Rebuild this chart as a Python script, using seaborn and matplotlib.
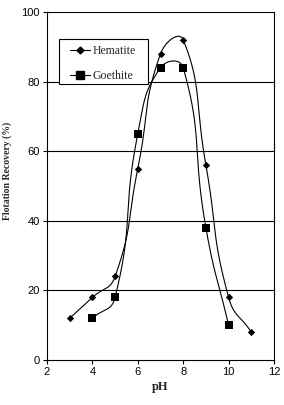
import numpy as np
import pandas as pd
import matplotlib
matplotlib.use("Agg")
import matplotlib.pyplot as plt
import seaborn as sns
from matplotlib.lines import Line2D
from matplotlib.patches import Rectangle

hematite_ph = [3, 4, 5, 6, 7, 8, 9, 10, 11]
hematite_rec = [12, 18, 24, 55, 88, 92, 56, 18, 8]
goethite_ph = [4, 5, 6, 7, 8, 9, 10]
goethite_rec = [12, 18, 65, 84, 84, 38, 10]
x_ticks = [2, 4, 6, 8, 10, 12]
y_ticks = [0, 20, 40, 60, 80, 100]

sns.set_theme(style="white")
plt.rcParams["font.family"] = ["Liberation Serif", "DejaVu Sans"]

W, H = 284, 405
fig = plt.figure(figsize=(W / 100, H / 100), dpi=100)
ax = fig.add_axes([47 / W, 45 / H, 227 / W, 348 / H])
ax.set_xlim(2, 12)
ax.set_ylim(0, 100)

# pixel scale for Excel-like smoothing
sx = 227 / 10.0
sy = 348 / 100.0


def excel_smooth(xs, ys, f=0.5, n=40):
    p = np.column_stack([np.asarray(xs, float) * sx, np.asarray(ys, float) * sy])
    m = len(p)
    out = []
    for i in range(m - 1):
        p0 = p[i - 1] if i > 0 else p[i]
        p1 = p[i]
        p2 = p[i + 1]
        p3 = p[i + 2] if i + 2 < m else p[i + 1]
        d01 = np.linalg.norm(p1 - p0)
        d12 = np.linalg.norm(p2 - p1)
        d23 = np.linalg.norm(p3 - p2)
        r1 = d12 / (d01 + d12) if d01 + d12 > 0 else 0
        r2 = d12 / (d12 + d23) if d12 + d23 > 0 else 0
        c1 = p1 + (p2 - p0) * f * r1
        c2 = p2 - (p3 - p1) * f * r2
        t = np.linspace(0, 1, n)[:, None]
        seg = ((1 - t) ** 3) * p1 + 3 * ((1 - t) ** 2) * t * c1 + 3 * (1 - t) * t ** 2 * c2 + t ** 3 * p2
        out.append(seg if i == 0 else seg[1:])
    pts = np.vstack(out)
    return pts[:, 0] / sx, pts[:, 1] / sy


for xs, ys in [(hematite_ph, hematite_rec), (goethite_ph, goethite_rec)]:
    cx, cy = excel_smooth(xs, ys)
    ax.plot(cx, cy, color="black", lw=0.8, zorder=3)

df_h = pd.DataFrame({"pH": hematite_ph, "rec": hematite_rec})
df_g = pd.DataFrame({"pH": goethite_ph, "rec": goethite_rec})
sns.scatterplot(data=df_h, x="pH", y="rec", marker="D", s=14, color="black",
                edgecolor="black", linewidth=0, ax=ax, zorder=4)
sns.scatterplot(data=df_g, x="pH", y="rec", marker="s", s=36, color="black",
                edgecolor="black", linewidth=0, ax=ax, zorder=4)

for yv in y_ticks[1:-1]:
    ax.axhline(yv, color="black", lw=0.8, zorder=1)

ax.set_xticks(x_ticks)
ax.set_yticks(y_ticks)
tick_font = {"family": ["Liberation Sans"], "size": 8}
ax.set_xticklabels([str(v) for v in x_ticks], fontdict=tick_font)
ax.set_yticklabels([str(v) for v in y_ticks], fontdict=tick_font)
ax.tick_params(axis="both", which="major", direction="out", length=3, width=0.8,
               color="black", bottom=True, left=True, pad=2, labelcolor="black")
for s in ax.spines.values():
    s.set_color("black")
    s.set_linewidth(0.8)

ax.set_xlabel("pH", fontsize=9, fontweight="bold", labelpad=3)
ax.set_ylabel("Flotation Recovery (%)", fontsize=7, fontweight="bold")
ax.yaxis.set_label_coords(-0.152, 0.543)

# legend frame
frame = Rectangle((12 / 227, 0.793), (148 - 59) / 227, 0.922 - 0.793,
                  transform=ax.transAxes, facecolor="white", edgecolor="black",
                  lw=0.8, zorder=5)
ax.add_patch(frame)

handles = [
    Line2D([0], [0], color="black", lw=0.8, marker="D", markersize=3.5, label="Hematite"),
    Line2D([0], [0], color="black", lw=0.8, marker="s", markersize=6, label="Goethite"),
]
leg = ax.legend(handles=handles, loc="center", bbox_to_anchor=(0.247, 0.853),
                frameon=False, fontsize=8.5, handlelength=1.7, handletextpad=0.2,
                labelspacing=1.1, borderpad=0, borderaxespad=0)
leg.set_zorder(6)

fig.savefig("out.png", dpi=100)
